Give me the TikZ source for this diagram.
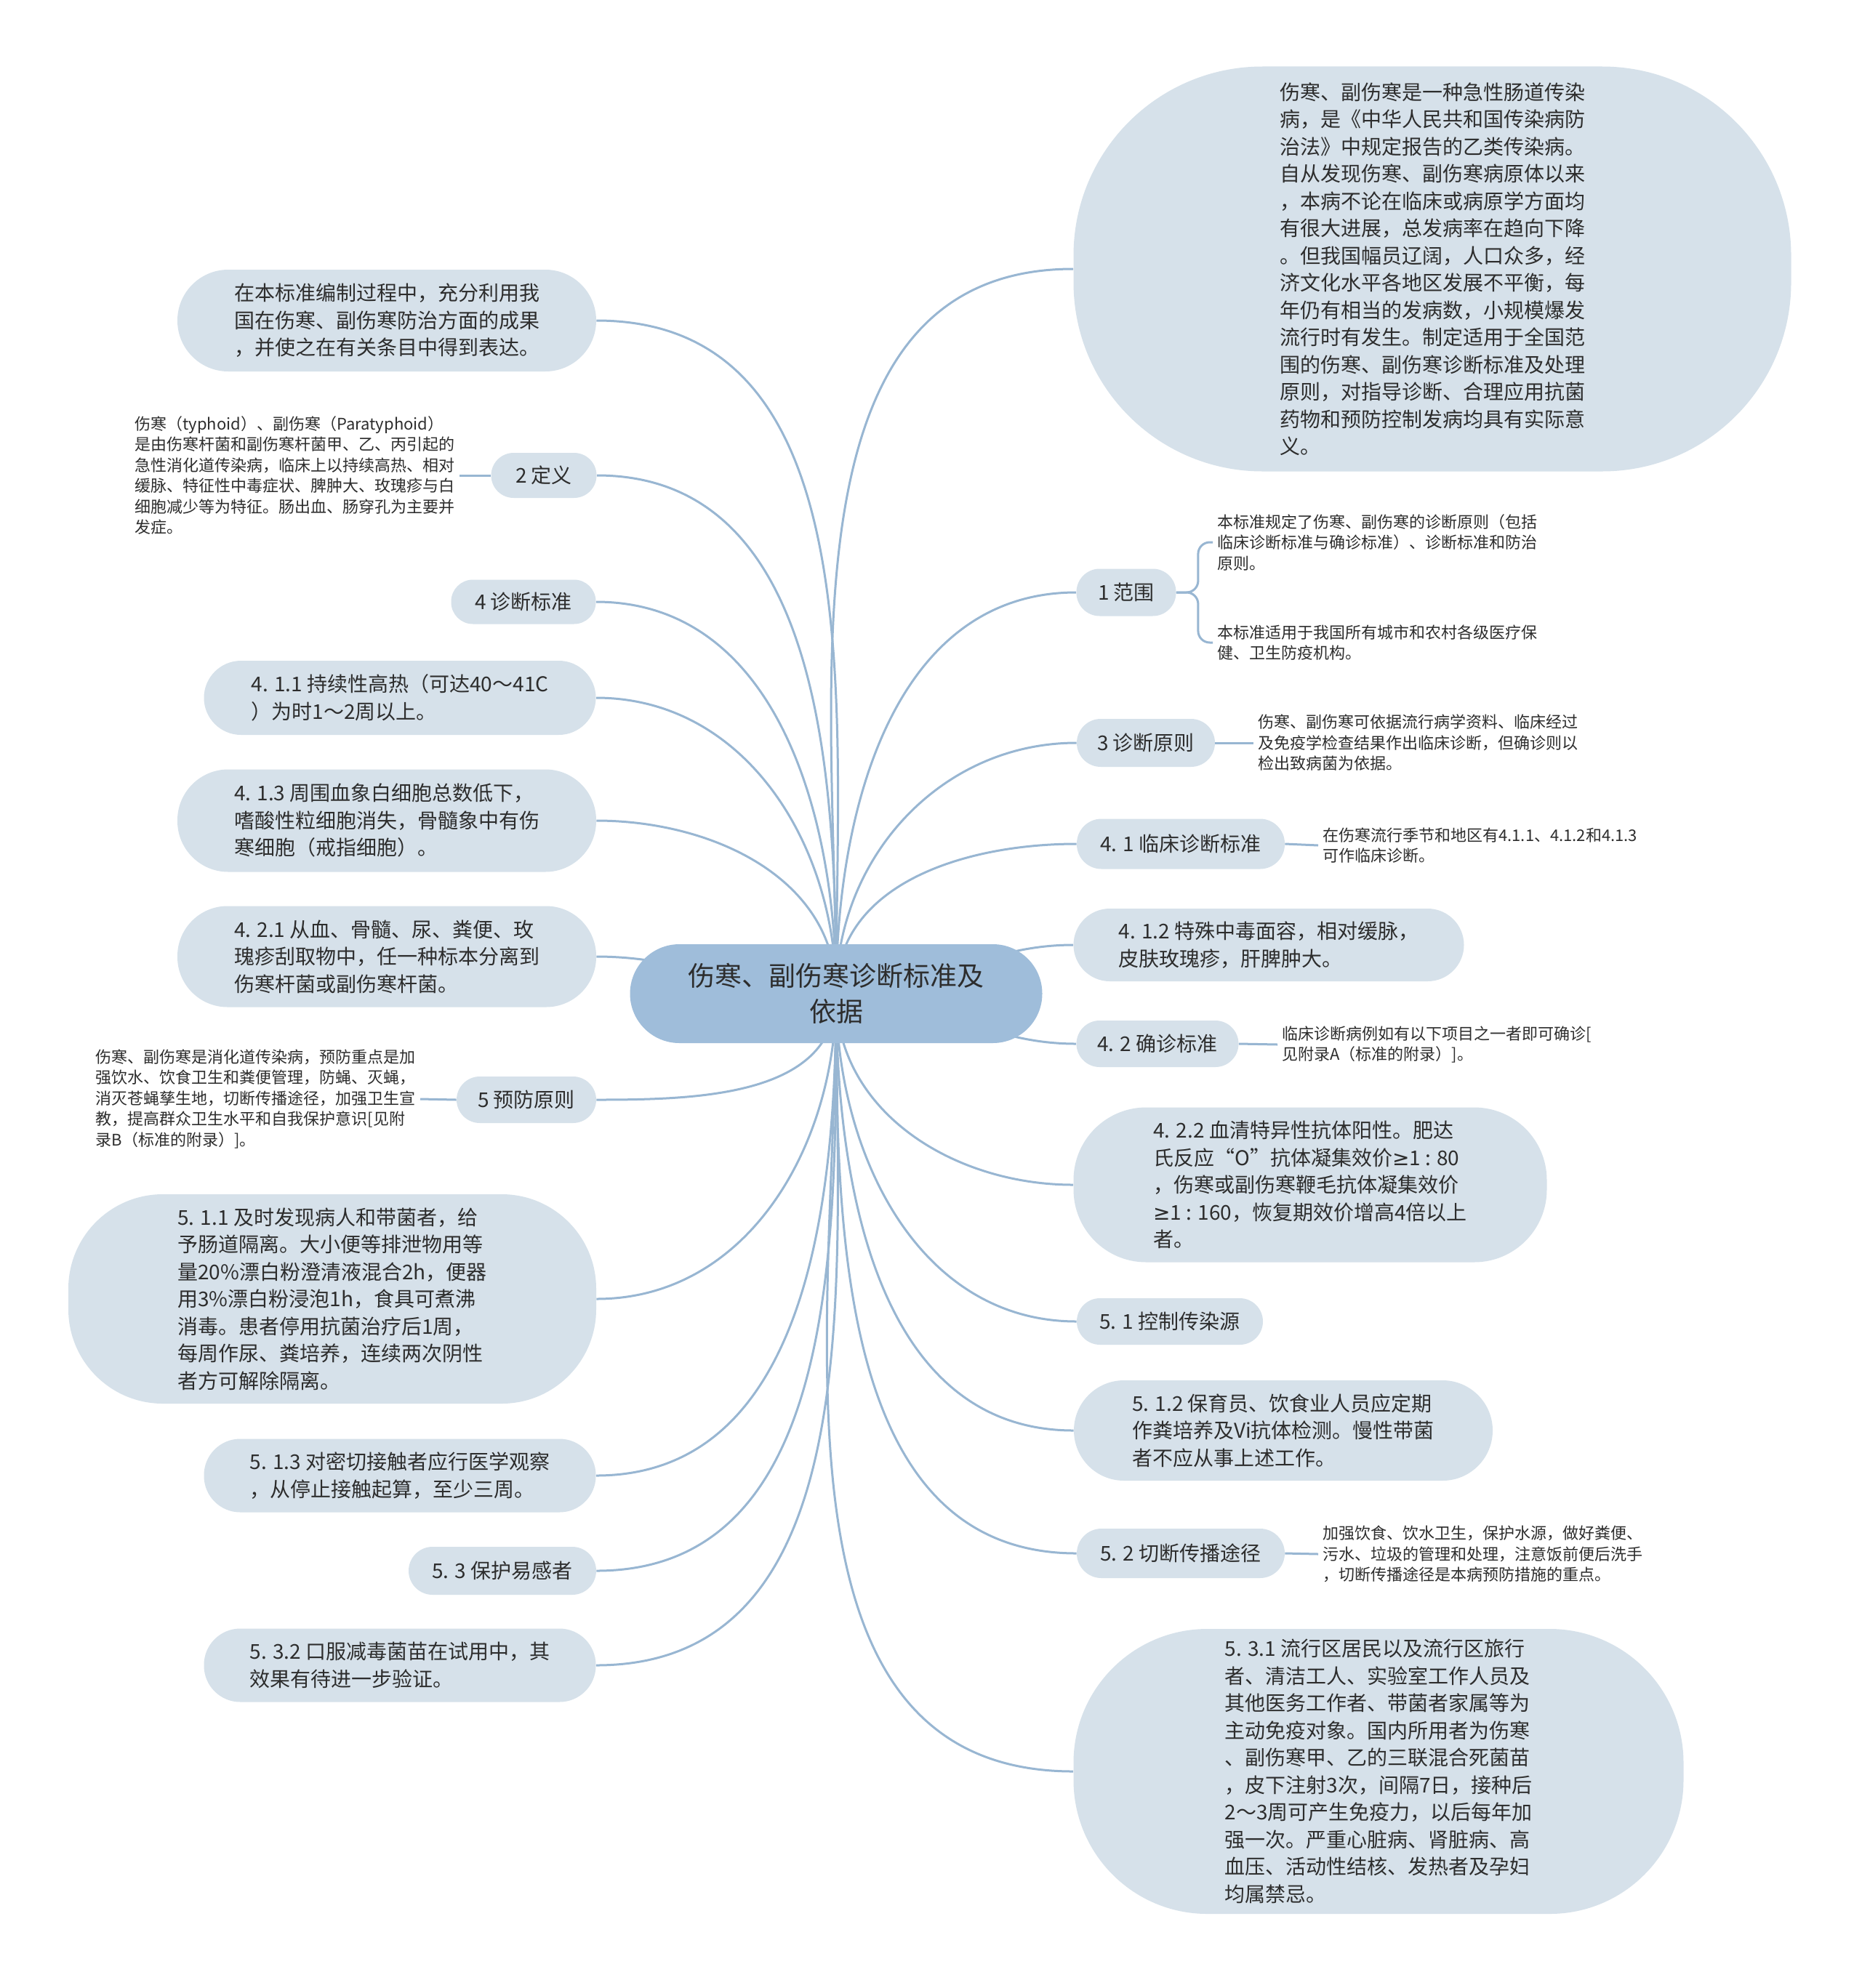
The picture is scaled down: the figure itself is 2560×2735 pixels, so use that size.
\documentclass[tikz,border=0pt]{standalone}
\usepackage{fontspec}
\setmainfont{Noto Sans CJK SC}
\newfontfamily\symfont{DejaVu Sans}
\usetikzlibrary{backgrounds}
\definecolor{rootfill}{RGB}{159,189,218}
\definecolor{topicfill}{RGB}{214,225,234}
\definecolor{linkcol}{RGB}{152,182,210}
\definecolor{inkcol}{RGB}{45,45,45}
\newcommand{\bigtxt}{\fontsize{14pt}{18.75pt}\selectfont}
\newcommand{\smalltxt}{\fontsize{11pt}{14.25pt}\selectfont}
\newcommand{\geqsym}{{\symfont ≥}}
\begin{document}
\begin{tikzpicture}[x=0.5pt, y=-0.5pt,
  rootbox/.style={fill=rootfill, rounded corners=34pt, minimum width=283.5pt, minimum height=68pt, inner sep=0pt, align=center, text=inkcol, font=\fontsize{18.5pt}{24.5pt}\selectfont},
  topic/.style={fill=topicfill, rounded corners=#1, inner sep=0pt, align=left, text=inkcol, font=\bigtxt},
  note/.style={inner sep=3pt, align=left, text=inkcol, font=\smalltxt},
  link/.style={draw=linkcol, line width=1.5pt}]
\useasboundingbox (0,0) rectangle (2560,2735);
\node[rootbox] (main) at (1150,1367) {伤寒、副伤寒诊断标准及\\依据};
% left side
\node[topic=35pt, minimum width=288pt, minimum height=70pt] (bz) at (532,441) {在本标准编制过程中，充分利用我\\国在伤寒、副伤寒防治方面的成果\\，并使之在有关条目中得到表达。};
\node[topic=15.5pt, minimum width=72.5pt, minimum height=31pt] (dy) at (748,654) {2 定义};
\node[note, anchor=east] (dy1) at (632,654) {伤寒（typhoid）、副伤寒（Paratyphoid）\\是由伤寒杆菌和副伤寒杆菌甲、乙、丙引起的\\急性消化道传染病，临床上以持续高热、相对\\缓脉、特征性中毒症状、脾肿大、玫瑰疹与白\\细胞减少等为特征。肠出血、肠穿孔为主要并\\发症。};
\node[topic=15pt, minimum width=99.5pt, minimum height=30.5pt] (zb) at (720,828) {4 诊断标准};
\node[topic=25.5pt, minimum width=269.5pt, minimum height=51pt] (a411) at (550,960) {4. 1.1 持续性高热（可达40～41C\\）为时1～2周以上。};
\node[topic=35pt, minimum width=288pt, minimum height=70.5pt] (a413) at (532,1129) {4. 1.3 周围血象白细胞总数低下，\\嗜酸性粒细胞消失，骨髓象中有伤\\寒细胞（戒指细胞）。};
\node[topic=34.5pt, minimum width=288pt, minimum height=69.5pt] (a421) at (532,1316) {4. 2.1 从血、骨髓、尿、粪便、玫\\瑰疹刮取物中，任一种标本分离到\\伤寒杆菌或副伤寒杆菌。};
\node[topic=16pt, minimum width=96pt, minimum height=32pt] (yf) at (724,1513) {5 预防原则};
\node[note, anchor=east] (yf1) at (578,1512) {伤寒、副伤寒是消化道传染病，预防重点是加\\强饮水、饮食卫生和粪便管理，防蝇、灭蝇，\\消灭苍蝇孳生地，切断传播途径，加强卫生宣\\教，提高群众卫生水平和自我保护意识[见附\\录B（标准的附录）]。};
\node[topic=65pt, minimum width=363pt, minimum height=144pt] (a511) at (457,1787) {5. 1.1 及时发现病人和带菌者，给\\予肠道隔离。大小便等排泄物用等\\量20\%漂白粉澄清液混合2h，便器\\用3\%漂白粉浸泡1h，食具可煮沸\\消毒。患者停用抗菌治疗后1周，\\每周作尿、粪培养，连续两次阴性\\者方可解除隔离。};
\node[topic=25pt, minimum width=269.5pt, minimum height=50.5pt] (a513) at (550,2030) {5. 1.3 对密切接触者应行医学观察\\，从停止接触起算，至少三周。};
\node[topic=16.5pt, minimum width=129pt, minimum height=33pt] (bh) at (691,2161) {5. 3 保护易感者};
\node[topic=25pt, minimum width=269.5pt, minimum height=50.5pt] (a532) at (550,2291) {5. 3.2 口服减毒菌苗在试用中，其\\效果有待进一步验证。};
% right side
\node[topic=130pt, minimum width=493.5pt, minimum height=278.5pt] (yy) at (1970,370) {伤寒、副伤寒是一种急性肠道传染\\病，是《中华人民共和国传染病防\\治法》中规定报告的乙类传染病。\\自从发现伤寒、副伤寒病原体以来\\，本病不论在临床或病原学方面均\\有很大进展，总发病率在趋向下降\\。但我国幅员辽阔，人口众多，经\\济文化水平各地区发展不平衡，每\\年仍有相当的发病数，小规模爆发\\流行时有发生。制定适用于全国范\\围的伤寒、副伤寒诊断标准及处理\\原则，对指导诊断、合理应用抗菌\\药物和预防控制发病均具有实际意\\义。};
\node[topic=16pt, minimum width=68.5pt, minimum height=32.5pt] (fw) at (1549,815) {1 范围};
\node[note, anchor=west] (fw1) at (1668,746) {本标准规定了伤寒、副伤寒的诊断原则（包括\\临床诊断标准与确诊标准）、诊断标准和防治\\原则。};
\node[note, anchor=west] (fw2) at (1668,884) {本标准适用于我国所有城市和农村各级医疗保\\健、卫生防疫机构。};
\node[topic=16.5pt, minimum width=95pt, minimum height=33pt] (yz) at (1576,1022) {3 诊断原则};
\node[note, anchor=west] (yz1) at (1724,1022) {伤寒、副伤寒可依据流行病学资料、临床经过\\及免疫学检查结果作出临床诊断，但确诊则以\\检出致病菌为依据。};
\node[topic=17pt, minimum width=143pt, minimum height=34.5pt] (lc) at (1624,1161) {4. 1 临床诊断标准};
\node[note, anchor=west] (lc1) at (1813,1163) {在伤寒流行季节和地区有4.1.1、4.1.2和4.1.3\\可作临床诊断。};
\node[topic=25pt, minimum width=268.5pt, minimum height=50pt] (a412) at (1745,1300) {4. 1.2 特殊中毒面容，相对缓脉，\\皮肤玫瑰疹，肝脾肿大。};
\node[topic=16pt, minimum width=111.5pt, minimum height=32pt] (qz) at (1592,1436) {4. 2 确诊标准};
\node[note, anchor=west] (qz1) at (1757,1437) {临床诊断病例如有以下项目之一者即可确诊[\\见附录A（标准的附录）]。};
\node[topic=50pt, minimum width=325.5pt, minimum height=106.5pt] (a422) at (1802,1630) {4. 2.2 血清特异性抗体阳性。肥达\\氏反应“O”抗体凝集效价\geqsym1 : 80\\，伤寒或副伤寒鞭毛抗体凝集效价\\\geqsym1 : 160，恢复期效价增高4倍以上\\者。};
\node[topic=16pt, minimum width=128pt, minimum height=32pt] (kz) at (1609,1818) {5. 1 控制传染源};
\node[topic=34.5pt, minimum width=288pt, minimum height=69pt] (a512) at (1765,1968) {5. 1.2 保育员、饮食业人员应定期\\作粪培养及Vi抗体检测。慢性带菌\\者不应从事上述工作。};
\node[topic=17pt, minimum width=143pt, minimum height=34pt] (qd) at (1624,2137) {5. 2 切断传播途径};
\node[note, anchor=west] (qd1) at (1813,2138) {加强饮食、饮水卫生，保护水源，做好粪便、\\污水、垃圾的管理和处理，注意饭前便后洗手\\，切断传播途径是本病预防措施的重点。};
\node[topic=92pt, minimum width=419.5pt, minimum height=196pt] (a531) at (1896,2437) {5. 3.1 流行区居民以及流行区旅行\\者、清洁工人、实验室工作人员及\\其他医务工作者、带菌者家属等为\\主动免疫对象。国内所用者为伤寒\\、副伤寒甲、乙的三联混合死菌苗\\，皮下注射3次，间隔7日，接种后\\2～3周可产生免疫力，以后每年加\\强一次。严重心脏病、肾脏病、高\\血压、活动性结核、发热者及孕妇\\均属禁忌。};
% connectors
\begin{scope}[on background layer]
\fill[white] (0,0) rectangle (2560,2735);
\draw[link] (main.center) to[out=90,in=0] (bz.east);
\draw[link] (main.center) to[out=90,in=0] (dy.east);
\draw[link] (main.center) to[out=90,in=0] (zb.east);
\draw[link] (main.center) to[out=90,in=0] (a411.east);
\draw[link] (main.center) to[out=90,in=0] (a413.east);
\draw[link] (main.center) to[out=180,in=0] (a421.east);
\draw[link] (main.center) to[out=-90,in=0] (yf.east);
\draw[link] (main.center) to[out=-90,in=0] (a511.east);
\draw[link] (main.center) to[out=-90,in=0] (a513.east);
\draw[link] (main.center) to[out=-90,in=0] (bh.east);
\draw[link] (main.center) to[out=-90,in=0] (a532.east);
\draw[link] (main.center) to[out=90,in=180] (yy.west);
\draw[link] (main.center) to[out=90,in=180] (fw.west);
\draw[link] (main.center) to[out=90,in=180] (yz.west);
\draw[link] (main.center) to[out=90,in=180] (lc.west);
\draw[link] (main.center) to[out=0,in=180] (a412.west);
\draw[link] (main.center) to[out=0,in=180] (qz.west);
\draw[link] (main.center) to[out=-90,in=180] (a422.west);
\draw[link] (main.center) to[out=-90,in=180] (kz.west);
\draw[link] (main.center) to[out=-90,in=180] (a512.west);
\draw[link] (main.center) to[out=-90,in=180] (qd.west);
\draw[link] (main.center) to[out=-90,in=180] (a531.west);
\end{scope}
\draw[link] (dy1.east) -- (dy.west);
\draw[link] (yf1.east) -- (yf.west);
\draw[link, rounded corners=8pt] (fw.east) -- ++(30,0) |- (fw1.west);
\draw[link, rounded corners=8pt] (fw.east) -- ++(30,0) |- (fw2.west);
\draw[link] (yz.east) -- (yz1.west);
\draw[link] (lc.east) -- (lc1.west);
\draw[link] (qz.east) -- (qz1.west);
\draw[link] (qd.east) -- (qd1.west);
\end{tikzpicture}
\end{document}
